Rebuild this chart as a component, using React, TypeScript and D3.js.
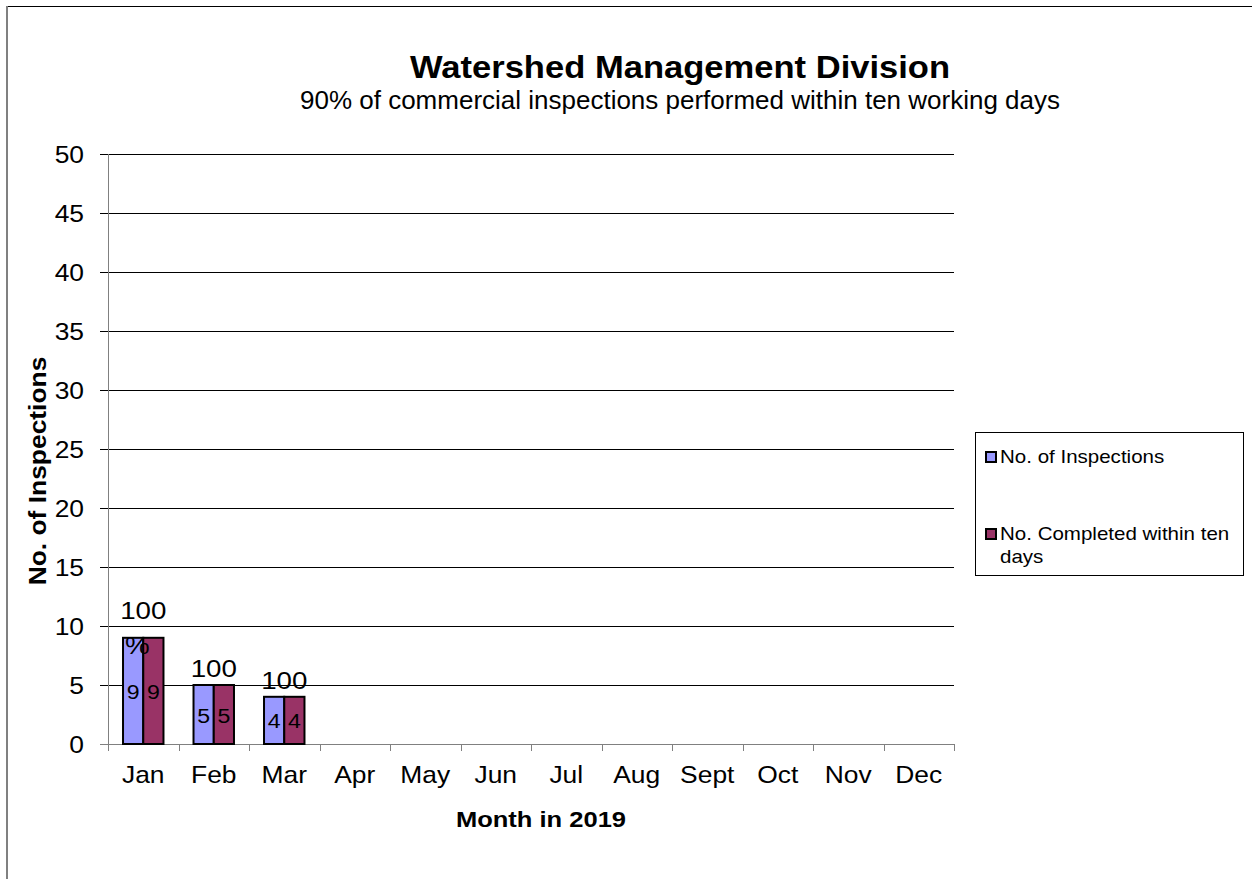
import { useEffect, useRef } from "react";
import * as d3 from "d3";

const months = ["Jan", "Feb", "Mar", "Apr", "May", "Jun", "Jul", "Aug", "Sept", "Oct", "Nov", "Dec"];
const inspections = [9, 5, 4];
const completed = [9, 5, 4];
const percentLabels = ["100%", "100", "100"];
const yTicks = [0, 5, 10, 15, 20, 25, 30, 35, 40, 45, 50];
const seriesNames = ["No. of Inspections", "No. Completed within ten days"];
const seriesColors = ["#9999ff", "#993366"];

const font = "Liberation Sans, Arial, sans-serif";

function App() {
  const ref = useRef<SVGSVGElement>(null);

  useEffect(() => {
    const svg = d3.select(ref.current);
    svg.selectAll("*").remove();

    // text is a bit wider than it is tall in the original, so stretch it a little
    const label = (
      parent: any, x: number, y: number, str: string | number, size: number,
      sx = 1.1, anchor = "middle", bold = false
    ) =>
      parent.append("text")
        .attr("transform", `translate(${x},${y}) scale(${sx},1)`)
        .attr("text-anchor", anchor)
        .attr("font-family", font)
        .attr("font-size", size)
        .attr("font-weight", bold ? "bold" : "normal")
        .text(str);

    const margin = { left: 108, right: 954, top: 154, bottom: 744 };

    // outer frame (only top and left edges show)
    svg.append("line").attr("x1", 6).attr("x2", 1252).attr("y1", 6.5).attr("y2", 6.5)
      .attr("stroke", "#000").attr("stroke-width", 1);
    svg.append("line").attr("x1", 7).attr("x2", 7).attr("y1", 6).attr("y2", 879)
      .attr("stroke", "#808080").attr("stroke-width", 2);

    const x = d3.scaleBand().domain(months).range([margin.left, margin.right]);
    const y = d3.scaleLinear().domain([0, 50]).range([margin.bottom, margin.top]);
    const barW = x.bandwidth() * 0.287;

    // title
    label(svg, 680, 78, "Watershed Management Division", 32, 1.08, "middle", true);
    label(svg, 680, 109, "90% of commercial inspections performed within ten working days", 25, 1.04);

    // gridlines
    svg.append("g").selectAll("line").data(yTicks.filter((t) => t > 0)).join("line")
      .attr("x1", margin.left - 8).attr("x2", margin.right)
      .attr("y1", (d) => Math.round(y(d)) + 0.5).attr("y2", (d) => Math.round(y(d)) + 0.5)
      .attr("stroke", "#000").attr("stroke-width", 1);

    // y axis
    svg.append("line").attr("x1", margin.left + 0.5).attr("x2", margin.left + 0.5)
      .attr("y1", margin.top).attr("y2", margin.bottom).attr("stroke", "#808080");
    svg.append("line")
      .attr("x1", margin.left - 8).attr("x2", margin.left)
      .attr("y1", y(0) + 0.5).attr("y2", y(0) + 0.5).attr("stroke", "#808080");
    const yg = svg.append("g");
    yTicks.forEach((t) => label(yg, 84, y(t) + 9, t, 24, 1.1, "end"));

    // x axis
    svg.append("line").attr("x1", margin.left).attr("x2", margin.right)
      .attr("y1", y(0) + 0.5).attr("y2", y(0) + 0.5).attr("stroke", "#808080");
    const edges = months.map((m) => x(m)!).concat([margin.right]);
    svg.append("g").selectAll("line").data(edges).join("line")
      .attr("x1", (d) => Math.round(d) + 0.5).attr("x2", (d) => Math.round(d) + 0.5)
      .attr("y1", y(0)).attr("y2", y(0) + 7).attr("stroke", "#808080");
    const xg = svg.append("g");
    months.forEach((m) => label(xg, x(m)! + x.bandwidth() / 2, 783, m, 24, 1.1));

    label(svg, 541, 827, "Month in 2019", 22, 1.16, "middle", true);
    svg.append("text").attr("transform", "translate(46,471) rotate(-90) scale(1.1,1)")
      .attr("text-anchor", "middle")
      .attr("font-family", font).attr("font-weight", "bold").attr("font-size", 24)
      .text("No. of Inspections");

    // bars
    [inspections, completed].forEach((vals, s) => {
      const g = svg.append("g");
      g.selectAll("rect").data(vals).join("rect")
        .attr("x", (_, i) => x(months[i])! + x.bandwidth() / 2 - barW + s * barW)
        .attr("y", (d) => y(d)).attr("width", barW).attr("height", (d) => y(0) - y(d))
        .attr("fill", seriesColors[s]).attr("stroke", "#000").attr("stroke-width", 2);
      vals.forEach((v, i) =>
        label(g, x(months[i])! + x.bandwidth() / 2 - barW / 2 + s * barW, (y(v) + y(0)) / 2 + 8, v, 21, 1.1)
      );
    });

    // percent labels
    percentLabels.forEach((lab, i) => {
      const cx = x(months[i])! + x.bandwidth() / 2;
      const top = y(inspections[i]);
      if (lab.endsWith("%")) {
        label(svg, cx, top - 19, lab.slice(0, -1), 23.5, 1.18);
        label(svg, cx - 6, top + 16, "%", 23.5, 1.18);
      } else {
        label(svg, cx, top - 8, lab, 23.5, 1.18);
      }
    });

    // legend
    svg.append("rect").attr("x", 975.5).attr("y", 432.5).attr("width", 268).attr("height", 143)
      .attr("fill", "#fff").attr("stroke", "#000");
    const ly = [463, 540];
    seriesNames.forEach((name, i) => {
      svg.append("rect").attr("x", 986).attr("y", ly[i] - 11).attr("width", 10).attr("height", 10)
        .attr("fill", seriesColors[i]).attr("stroke", "#000").attr("stroke-width", 2);
      if (i === 1) {
        label(svg, 1000, ly[i], "No. Completed within ten", 18, 1.14, "start");
        label(svg, 1000, ly[i] + 23, "days", 18, 1.14, "start");
      } else {
        label(svg, 1000, ly[i], name, 18, 1.14, "start");
      }
    });
  }, []);

  return <svg ref={ref} width={1252} height={879} style={{ position: "absolute", left: 0, top: 0 }} />;
}

export default App;
